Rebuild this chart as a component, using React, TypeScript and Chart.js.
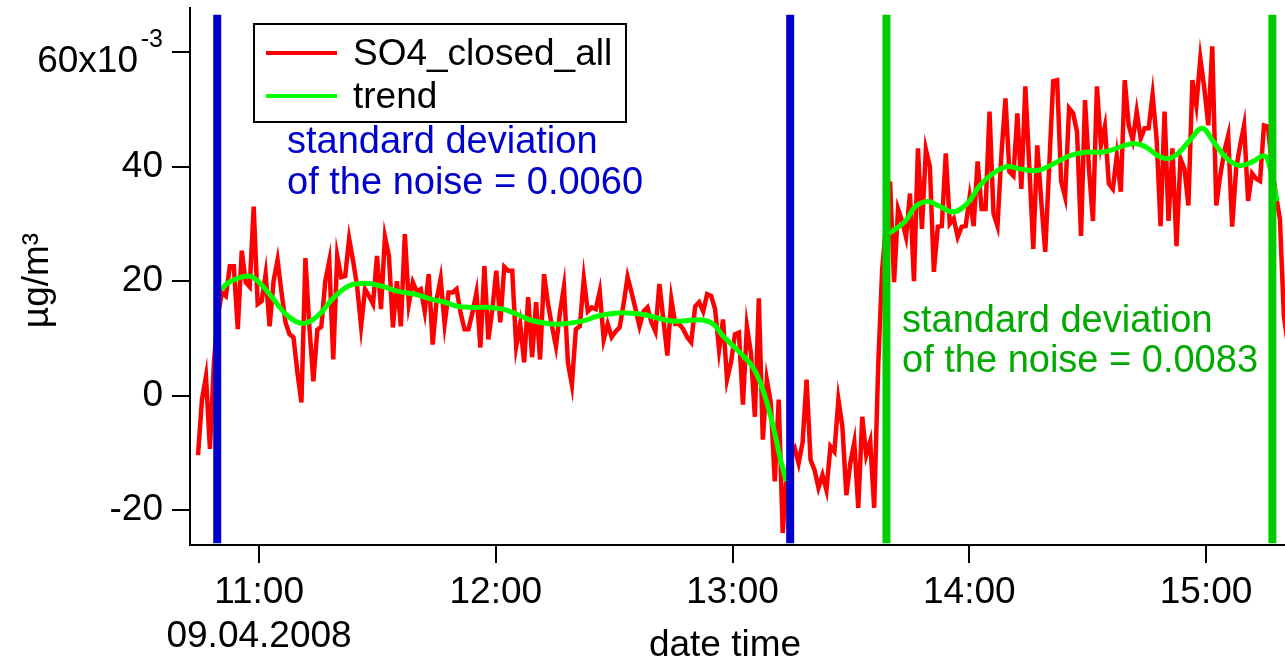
import React, { useEffect, useRef } from 'react';
import { Chart, registerables } from 'chart.js';

Chart.register(...registerables);

const FONT_FAMILY = '"Liberation Sans", Arial, Helvetica, sans-serif';

// x values: minutes after 10:00 on 09.04.2008
const so4StartMinute = 44.53;
const so4StepMinutes = 1.008;
const so4Values = [
  -10.4, -0.7, 3.3, -9.3, 5.8, 14, 18, 17.4, 22.6, 22.6,
  11.6, 25.3, 19.8, 19, 33, 16, 16.5, 21.2, 12.1, 20,
  23.7, 18, 12.8, 10.7, 10.2, 4, -1.2, 24, 12, 2.5,
  11.5, 12, 20, 23.5, 6.3, 24.4, 20.7, 20.9, 27.4, 23.5,
  19.1, 12.1, 18.6, 17.4, 16, 24.4, 15.1, 27.7, 24.4, 11.9,
  20, 12.1, 28.2, 16, 19.8, 18.2, 18.6, 14.7, 21.2, 8.9,
  16.8, 20.4, 12.5, 18, 18, 18.6, 14.5, 11.6, 11.6, 14.5,
  18, 8.4, 22.6, 9.8, 15.1, 21.8, 12.8, 22.5, 21.8, 21.8,
  8.6, 12.5, 5.8, 17.2, 6.7, 16.3, 6.3, 21.2, 16, 12.1,
  8.6, 14.5, 19, 5.8, 1.9, 11.6, 12.1, 20.4, 14.7, 15.4,
  15.1, 18.2, 9.8, 12.5, 10.2, 11.2, 11.9, 16, 20.7, 18,
  15.1, 12.1, 14.7, 15.4, 12.8, 11.2, 19.5, 13.3, 7, 16.8,
  12.5, 12.5, 11.6, 10.2, 9.3, 15.6, 16.3, 14.7, 17.7, 17.4,
  15.1, 8, 13.3, 2.8, 5.8, 10.7, 11, -1.6, 12.1, 7.5,
  -3.7, 17, -7.7, 2.8, -1.2, -15, -0.7, -24, -14, -10,
  -9.1, -11.8, -8.2, 2.8, -11.2, -13, -16.1, -13.9, -16.5, -8.9,
  -9.8, -0.7, -5.4, -17.4, -11.8, -8.2, -19.6, -3.7, -10.4, -8,
  -19.6, 5, 22, 30, 37.4, 19.8, 32.6, 30.5, 27.7, 35.3,
  20, 43.2, 29.1, 43, 40, 21.6, 29.5, 29.6, 42.3, 30,
  30.9, 27.7, 29.5, 29.6, 34.7, 29.6, 40.9, 32.6, 32.6, 49.6,
  31.8, 29.6, 42.3, 51.9, 39.1, 38.4, 49.3, 36.1, 54, 40,
  25.6, 43.7, 34, 25.1, 40, 54.9, 55.1, 37.4, 34.7, 50.2,
  49.3, 46.1, 27.9, 51.6, 39.6, 30.5, 54, 43.7, 47, 37,
  36.1, 41.9, 35.6, 55.1, 47.2, 44.6, 49.6, 44.9, 46.7, 46.7,
  52.5, 44.9, 29.6, 49.6, 30.5, 43.2, 26.1, 41.4, 39.6, 33.2,
  55.1, 50.7, 58.9, 53.7, 47.2, 61, 33.2, 38.4, 42.6, 45.4,
  29.5, 39.6, 43.7, 47.2, 34, 38.8, 37.9, 37.5, 47.2, 47,
  40, 35, 30.9, 13.9, 9,
];

const trend1Minutes = [
  50.4, 52.9, 57.2, 59.7, 63.0, 67.3, 71.2, 75.0, 78.5, 82.6,
  86.9, 91.2, 95.2, 99.5, 103.8, 107.1, 110.2, 114.2, 118.5, 121.8,
  125.4, 128.7, 133.0, 136.3, 141.9, 145.9, 150.2, 154.5, 158.6, 162.9,
  166.2, 170.5, 172.5, 175.1, 177.6, 181.9, 185.2, 187.7, 190.3, 192.0, 193.6,
];
const trend1Values = [
  18.6, 20.0, 20.9, 20.0, 17.4, 13.9, 12.6, 14.0, 16.8, 19.1,
  19.6, 19.1, 18.2, 17.7, 16.8, 16.3, 15.6, 15.4, 15.4, 15.1,
  14.2, 13.2, 12.6, 12.5, 13.0, 13.9, 14.4, 14.4, 14.0, 13.2,
  13.0, 13.2, 13.2, 12.5, 10.4, 7.5, 4.9, 1.0, -5.4, -10.7, -15.0,
];
const trend2Minutes = [
  219.0, 223.7, 226.3, 229.3, 232.1, 235.9, 239.4, 242.7, 246.0, 249.6,
  252.9, 257.2, 260.5, 265.5, 269.3, 274.4, 281.2, 284.5, 287.8, 290.4,
  292.9, 295.9, 299.0, 301.8, 305.3, 308.6, 311.9, 314.5, 315.7, 318.0,
];
const trend2Values = [
  28.0, 30.4, 33.0, 33.9, 33.2, 32.1, 33.5, 36.7, 38.8, 40.0,
  39.6, 39.3, 40.2, 41.9, 42.5, 42.6, 44.0, 43.5, 41.9, 41.4,
  42.3, 44.6, 46.7, 44.4, 41.4, 40.2, 40.9, 41.9, 41.0, 34.0,
];

const blueMarkerMinutes = [49.4, 194.6];
const greenMarkerMinutes = [219.0, 316.8];
const markerTopValue = 66.5;
const markerBottomValue = -25.8;

const xTickMinutes = [60, 120, 180, 240, 300];
const xTickLabels = ['11:00', '12:00', '13:00', '14:00', '15:00'];
const dateLabel = '09.04.2008';
const yTickValues = [-20, 0, 20, 40, 60];
const yTopMantissa = '60x10';
const yTopExponent = '-3';

const X_MIN = 42.5;
const X_MAX = 320.0;
const Y_MIN = -26.1;
const Y_MAX = 67.7;

const xTitle = 'date time';
const yTitle = 'µg/m³';

const noiseNotes = [
  { lines: ['standard deviation', 'of the noise = 0.0060'], color: '#0000CC', dx: 97, dy: 145, gap: 41 },
  { lines: ['standard deviation', 'of the noise = 0.0083'], color: '#00AA00', dx: 712, dy: 324, gap: 40 },
];

const overlayPlugin = {
  id: 'overlay',
  afterDraw(chart: any) {
    const { ctx, chartArea, scales } = chart;
    const L = chartArea.left;
    const T = chartArea.top;
    const B = chartArea.bottom;
    ctx.save();
    ctx.textAlign = 'left';
    ctx.textBaseline = 'alphabetic';

    // legend box
    const bx = L + 64, by = T + 16, bw = 372, bh = 98;
    ctx.fillStyle = '#ffffff';
    ctx.fillRect(bx, by, bw, bh);
    ctx.lineWidth = 2;
    ctx.strokeStyle = '#000000';
    ctx.strokeRect(bx, by, bw, bh);
    const entries = chart.data.datasets
      .filter((d: any) => d.legendRank !== undefined)
      .sort((a: any, b: any) => a.legendRank - b.legendRank);
    entries.forEach((d: any, k: number) => {
      const cy = by + 29 + k * 43;
      ctx.strokeStyle = d.borderColor;
      ctx.lineWidth = 4;
      ctx.beginPath();
      ctx.moveTo(bx + 12, cy);
      ctx.lineTo(bx + 83, cy);
      ctx.stroke();
      ctx.fillStyle = '#000000';
      ctx.font = `37px ${FONT_FAMILY}`;
      ctx.fillText(d.label, bx + 99, cy + 12);
    });

    // noise annotations
    ctx.font = `38px ${FONT_FAMILY}`;
    noiseNotes.forEach((n) => {
      ctx.fillStyle = n.color;
      n.lines.forEach((line, k) => ctx.fillText(line, L + n.dx, T + n.dy + k * n.gap));
    });

    // top y tick label with exponent
    const y60 = scales.y.getPixelForValue(yTickValues[yTickValues.length - 1]);
    ctx.fillStyle = '#000000';
    ctx.textAlign = 'right';
    ctx.font = `37px ${FONT_FAMILY}`;
    ctx.fillText(yTopMantissa, L - 52, y60 + 20);
    ctx.font = `25px ${FONT_FAMILY}`;
    ctx.fillText(yTopExponent, L - 27, y60 - 5);

    // axis titles
    ctx.font = `37px ${FONT_FAMILY}`;
    ctx.textAlign = 'center';
    ctx.fillText(xTitle, L + 535, B + 111);
    ctx.save();
    ctx.translate(L - 152, (T + B) / 2 + 4);
    ctx.rotate(-Math.PI / 2);
    ctx.textBaseline = 'middle';
    ctx.fillText(yTitle, 0, 0);
    ctx.restore();

    ctx.restore();
  },
};

function markerDataset(minute: number, color: string) {
  return {
    label: 'marker',
    data: [
      { x: minute, y: markerTopValue },
      { x: minute, y: markerBottomValue },
    ],
    borderColor: color,
    borderWidth: 8,
    pointRadius: 0,
    borderCapStyle: 'butt',
    tension: 0,
  };
}

export default function App() {
  const canvasRef = useRef<HTMLCanvasElement | null>(null);

  useEffect(() => {
    document.body.style.margin = '0';
    const canvas = canvasRef.current;
    if (!canvas) return;

    const so4Data = so4Values.map((v, i) => ({ x: so4StartMinute + i * so4StepMinutes, y: v }));
    const trend1Data = trend1Minutes.map((m, i) => ({ x: m, y: trend1Values[i] }));
    const trend2Data = trend2Minutes.map((m, i) => ({ x: m, y: trend2Values[i] }));

    const chart = new Chart(canvas, {
      type: 'line',
      data: {
        datasets: [
          ...blueMarkerMinutes.map((m) => markerDataset(m, '#0000CC')),
          ...greenMarkerMinutes.map((m) => markerDataset(m, '#00CC00')),
          {
            label: 'trend',
            legendRank: 1,
            data: trend1Data,
            borderColor: '#00FF00',
            borderWidth: 5,
            pointRadius: 0,
            tension: 0.4,
          },
          {
            label: 'trend',
            data: trend2Data,
            borderColor: '#00FF00',
            borderWidth: 5,
            pointRadius: 0,
            tension: 0.4,
          },
          {
            label: 'SO4_closed_all',
            legendRank: 0,
            data: so4Data,
            borderColor: '#FF0000',
            borderWidth: 4.5,
            pointRadius: 0,
            tension: 0,
          },
        ] as any,
      },
      options: {
        animation: false,
        responsive: true,
        maintainAspectRatio: false,
        layout: { padding: { top: 8, right: 0, bottom: 0, left: 0 } },
        plugins: {
          legend: { display: false },
          tooltip: { enabled: false },
        },
        scales: {
          x: {
            type: 'linear',
            min: X_MIN,
            max: X_MAX,
            afterBuildTicks: (scale: any) => {
              scale.ticks = xTickMinutes.map((v) => ({ value: v }));
            },
            afterFit: (scale: any) => {
              scale.height = 114;
              scale.paddingLeft = 0;
              scale.paddingRight = 0;
              scale.paddingTop = 0;
              scale.paddingBottom = 0;
            },
            ticks: {
              autoSkip: false,
              maxRotation: 0,
              minRotation: 0,
              padding: 8,
              color: '#000000',
              font: { family: FONT_FAMILY, size: 37, lineHeight: 1.19 },
              callback: (value: any) => {
                const idx = xTickMinutes.indexOf(Number(value));
                const lab = idx >= 0 ? xTickLabels[idx] : '';
                return idx === 0 ? [lab, dateLabel] : lab;
              },
            },
            grid: {
              display: true,
              drawOnChartArea: false,
              drawTicks: true,
              tickLength: 18,
              color: '#000000',
              lineWidth: 2,
            },
            border: { display: true, color: '#000000', width: 2 },
          },
          y: {
            type: 'linear',
            min: Y_MIN,
            max: Y_MAX,
            afterBuildTicks: (scale: any) => {
              scale.ticks = yTickValues.map((v) => ({ value: v }));
            },
            afterFit: (scale: any) => {
              scale.width = 190;
              scale.paddingLeft = 0;
              scale.paddingRight = 0;
              scale.paddingTop = 0;
              scale.paddingBottom = 0;
            },
            ticks: {
              padding: 9,
              color: '#000000',
              font: { family: FONT_FAMILY, size: 37 },
              callback: (value: any) => {
                const v = Number(value);
                return v === yTickValues[yTickValues.length - 1] ? '' : String(v);
              },
            },
            grid: {
              display: true,
              drawOnChartArea: false,
              drawTicks: true,
              tickLength: 18,
              color: '#000000',
              lineWidth: 2,
            },
            border: { display: true, color: '#000000', width: 2 },
          },
        },
      },
      plugins: [overlayPlugin],
    } as any);

    return () => chart.destroy();
  }, []);

  return (
    <div style={{ position: 'absolute', left: 0, top: 0, width: '1285px', height: '659px', background: '#ffffff' }}>
      <canvas ref={canvasRef} />
    </div>
  );
}
